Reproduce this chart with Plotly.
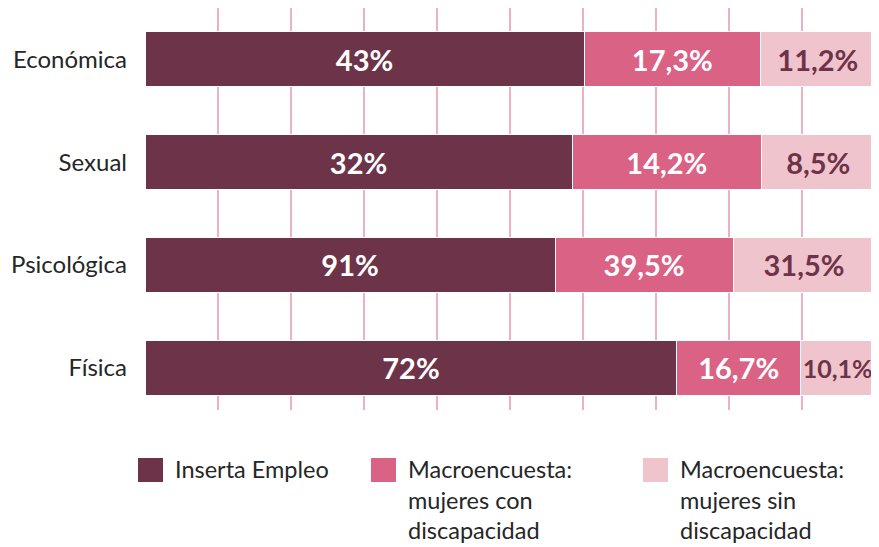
import plotly.graph_objects as go

categories = ["Económica", "Sexual", "Psicológica", "Física"]
series_names = ["Inserta Empleo", "Macroencuesta:<br>mujeres con<br>discapacidad",
                "Macroencuesta:<br>mujeres sin<br>discapacidad"]
inserta = [43, 32, 91, 72]
macro_con = [17.3, 14.2, 39.5, 16.7]
macro_sin = [11.2, 8.5, 31.5, 10.1]
labels_inserta = ["43%", "32%", "91%", "72%"]
labels_con = ["17,3%", "14,2%", "39,5%", "16,7%"]
labels_sin = ["11,2%", "8,5%", "31,5%", "10,1%"]

colors = ["#6d3449", "#d96285", "#f0c4cd"]
text_colors = ["white", "white", "#6d3449"]
label_sizes = [[29] * 4, [29] * 4, [29, 29, 29, 25]]
FONT = "Lato"

FIG_W, FIG_H = 871, 539
# plot area in figure pixels
L, R, T, B = 137, 867, 0, 402
W, H = R - L, B - T

fig = go.Figure()
for name, vals, labs, col, tcol, sz in zip(series_names, [inserta, macro_con, macro_sin],
                                           [labels_inserta, labels_con, labels_sin],
                                           colors, text_colors, label_sizes):
    fig.add_trace(go.Bar(
        y=categories, x=vals, orientation="h", name=name,
        marker=dict(color=col, line=dict(color="white", width=1)),
        text=labs, textposition="inside", insidetextanchor="middle",
        textfont=dict(family=FONT, size=sz, color=tcol, weight="bold"),
        textangle=0, constraintext="none", showlegend=False,
    ))

# right-edge gridline (longer, as in the reference)
fig.add_shape(type="line", xref="paper", yref="paper", x0=1, x1=1,
              y0=(B - 429) / H, y1=1, line=dict(color="#eeb1c1", width=1.5))

# manual legend (larger swatches than plotly's built-in)
swatch_px = [130, 363, 635]
for name, col, px in zip(series_names, colors, swatch_px):
    fig.add_shape(type="rect", xref="paper", yref="paper",
                  x0=(px - L) / W, x1=(px + 25 - L) / W,
                  y0=(B - 474) / H, y1=(B - 450) / H,
                  fillcolor=col, line=dict(width=0))
    fig.add_annotation(text=name, xref="paper", yref="paper",
                       x=(px + 35 - L) / W, y=(B - 445) / H,
                       xanchor="left", yanchor="top", align="left", showarrow=False,
                       font=dict(family=FONT, size=23.5, color="#262626"))

fig.update_layout(
    barmode="stack", barnorm="percent", bargap=0.465,
    width=FIG_W, height=FIG_H,
    margin=dict(l=L, r=FIG_W - R, t=T, b=FIG_H - B),
    plot_bgcolor="white", paper_bgcolor="white",
    font=dict(family=FONT, color="#262626"),
    xaxis=dict(range=[0, 100], dtick=10, showgrid=True, gridcolor="#eeb1c1",
               gridwidth=1.5, showticklabels=False, zeroline=False, showline=False,
               fixedrange=True),
    yaxis=dict(range=[3.413, -0.5], showgrid=False, ticks="", ticklabelstandoff=17,
               tickfont=dict(family=FONT, size=24, color="#262626"), showline=False),
    uniformtext=dict(mode=False),
)
fig.write_html("out.html")
